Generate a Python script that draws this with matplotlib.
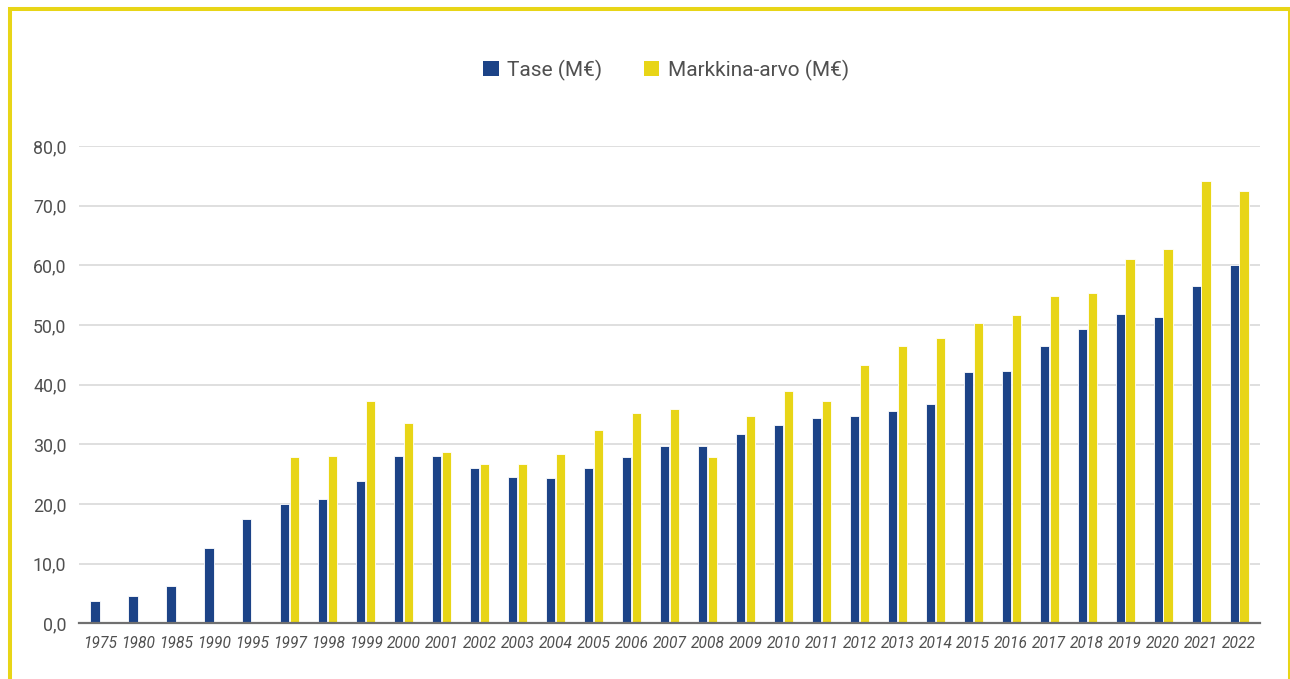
# Tase ja markkina-arvo vuosittain (M€)
import numpy as np
import matplotlib
matplotlib.use('Agg')
import matplotlib.pyplot as plt
from matplotlib.patches import Patch, Rectangle

# data
vuodet = ['1975', '1980', '1985', '1990', '1995', '1997', '1998', '1999', '2000',
          '2001', '2002', '2003', '2004', '2005', '2006', '2007', '2008', '2009',
          '2010', '2011', '2012', '2013', '2014', '2015', '2016', '2017', '2018',
          '2019', '2020', '2021', '2022']
tase = [3.7, 4.6, 6.3, 12.6, 17.5, 20.0, 20.9, 23.8, 28.1,
        28.1, 26.1, 24.6, 24.3, 26.1, 27.8, 29.8, 29.8, 31.8,
        33.3, 34.4, 34.7, 35.6, 36.7, 42.1, 42.3, 46.4, 49.3,
        51.9, 51.3, 56.5, 60.0]
markkina_arvo = [np.nan, np.nan, np.nan, np.nan, np.nan, 27.8, 28.1, 37.3, 33.6,
                 28.7, 26.7, 26.7, 28.4, 32.4, 35.3, 35.9, 27.8, 34.8,
                 39.0, 37.3, 43.3, 46.5, 47.9, 50.4, 51.6, 54.8, 55.3,
                 61.1, 62.8, 74.1, 72.4]
sarjat = ['Tase (M€)', 'Markkina-arvo (M€)']

sininen = '#1c4387'
keltainen = '#e8d517'
teksti = '#505050'

plt.rcParams['font.family'] = ['Roboto', 'DejaVu Sans']

fig = plt.figure(figsize=(12.9, 6.79), dpi=100)
ax = fig.add_axes([79/1290, 1 - 623.3/679, 1181/1290, (623.3 - 146)/679])

x = np.arange(len(vuodet))
leveys = 0.245
ax.bar(x - 0.13, tase, leveys, color=sininen, edgecolor='white', linewidth=0.6, zorder=3)
ax.bar(x + 0.13, markkina_arvo, leveys, color=keltainen, edgecolor='white', linewidth=0.6, zorder=3)

ax.set_xlim(-0.55, len(vuodet) - 0.45)
ax.set_ylim(0, 80)
ax.set_yticks(np.arange(0, 81, 10))
ax.set_yticklabels([f'{v:.1f}'.replace('.', ',') for v in np.arange(0, 81, 10)],
                   fontsize=12.8, color=teksti)
ax.set_xticks(x)
ax.set_xticklabels(vuodet, fontsize=11.2, color=teksti, style='italic')
ax.tick_params(axis='y', length=0, pad=9)
ax.tick_params(axis='x', length=0, pad=9)

ax.grid(axis='y', color='#d9d9d9', linewidth=1.2, zorder=0)
for s in ['top', 'right', 'left']:
    ax.spines[s].set_visible(False)
ax.spines['bottom'].set_color('#707070')
ax.spines['bottom'].set_linewidth(1.6)
ax.spines['bottom'].set_zorder(4)

# selite
kahvat = [Patch(facecolor=sininen), Patch(facecolor=keltainen)]
fig.legend(kahvat, sarjat, loc='center', bbox_to_anchor=(666/1290, 1 - 70/679),
           ncol=2, frameon=False, fontsize=15, handlelength=0.75, handleheight=0.75,
           handletextpad=0.4, columnspacing=2.0, labelcolor=teksti)

# keltainen kehys
fig.patches.append(Rectangle((9.5/1290, -0.1), (1289.5 - 9.5)/1290, 1.1 - 9.5/679,
                             transform=fig.transFigure, fill=False,
                             edgecolor=keltainen, linewidth=2.9))

fig.savefig('out.png', dpi=100)
